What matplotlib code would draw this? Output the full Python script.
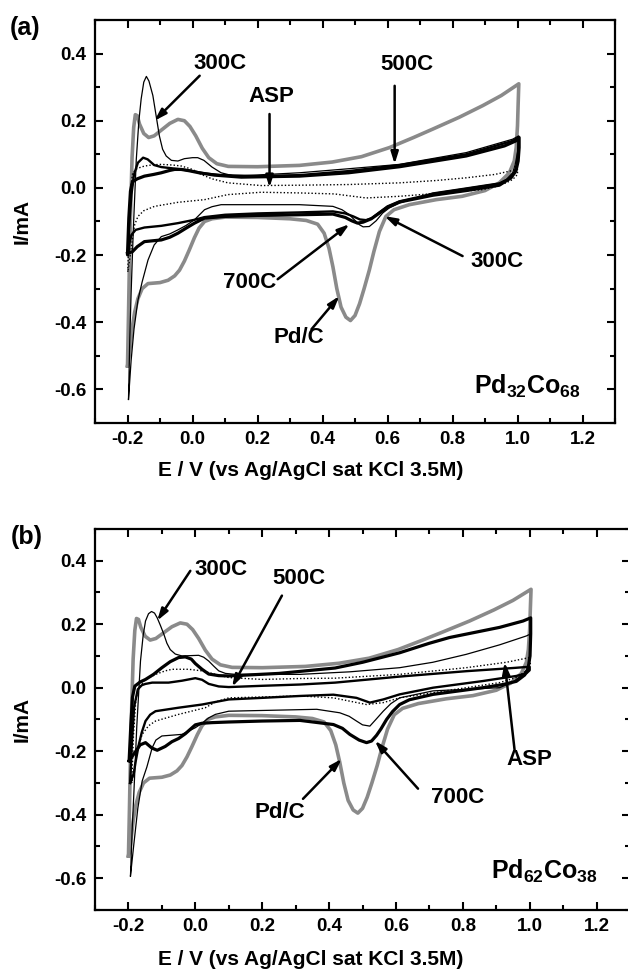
import matplotlib
matplotlib.use("Agg")
import matplotlib.pyplot as plt
from matplotlib.ticker import MultipleLocator, FormatStrFormatter

plt.rcParams.update({
    "font.family": ["Liberation Sans", "DejaVu Sans"],
    "font.weight": "bold",
    "axes.unicode_minus": False,
    "mathtext.fontset": "custom",
    "mathtext.rm": "Liberation Sans:bold",
    "mathtext.bf": "Liberation Sans:bold",
    "mathtext.default": "bf",
})

# ---- Pd/C reference (same curve in both panels) ----
pdc_E = [-0.200, -0.197, -0.194, -0.190, -0.186, -0.181, -0.176, -0.170, -0.163, -0.150,
         -0.135, -0.118, -0.096, -0.070, -0.045, -0.025, -0.008, 0.010, 0.030, 0.050,
         0.075, 0.110, 0.200, 0.329, 0.430, 0.520, 0.606, 0.680, 0.739, 0.820,
         0.893, 0.950, 1.004,
         1.002, 1.000, 0.996, 0.990, 0.975, 0.944, 0.900, 0.830, 0.750, 0.667,
         0.620, 0.595, 0.575, 0.558, 0.544, 0.528, 0.514, 0.500, 0.486, 0.472,
         0.457, 0.444, 0.432, 0.420, 0.405, 0.385, 0.350, 0.300, 0.200, 0.100,
         0.060, 0.037, 0.020, 0.006, -0.010, -0.025, -0.040, -0.055, -0.075, -0.100,
         -0.137, -0.155, -0.168, -0.178, -0.186, -0.194, -0.200]
pdc_I = [-0.530, -0.380, -0.215, -0.050, 0.090, 0.180, 0.218, 0.215, 0.190, 0.162,
         0.150, 0.155, 0.172, 0.192, 0.204, 0.200, 0.183, 0.155, 0.118, 0.090,
         0.072, 0.064, 0.063, 0.067, 0.077, 0.093, 0.120, 0.150, 0.175, 0.210,
         0.245, 0.275, 0.310,
         0.250, 0.185, 0.120, 0.080, 0.045, 0.015, -0.008, -0.025, -0.035, -0.050,
         -0.065, -0.085, -0.130, -0.190, -0.245, -0.300, -0.345, -0.380, -0.395, -0.385,
         -0.355, -0.300, -0.235, -0.180, -0.135, -0.108, -0.097, -0.092, -0.088, -0.087,
         -0.092, -0.100, -0.120, -0.148, -0.185, -0.218, -0.245, -0.262, -0.275, -0.282,
         -0.285, -0.300, -0.330, -0.370, -0.420, -0.495, -0.530]

# ---- panel (a): Pd32Co68 ----
a_asp_E = [-0.199, -0.195, -0.189, -0.184, -0.170, -0.148, -0.120, -0.096, -0.060, -0.034,
           0.000, 0.027, 0.060, 0.109, 0.211, 0.329, 0.480, 0.637, 0.750, 0.842, 0.930, 1.000,
           1.000, 0.985, 0.965, 0.930, 0.893, 0.770, 0.637, 0.534, 0.437, 0.329, 0.211,
           0.109, 0.037, -0.045, -0.117, -0.150, -0.168, -0.178, -0.184, -0.190, -0.199]
a_asp_I = [-0.250, -0.100, 0.010, 0.045, 0.058, 0.065, 0.069, 0.070, 0.068, 0.065,
           0.055, 0.040, 0.027, 0.015, 0.007, 0.008, 0.010, 0.015, 0.022, 0.030, 0.040, 0.055,
           0.040, 0.025, 0.015, 0.003, -0.005, -0.015, -0.025, -0.030, -0.018, -0.015, -0.013,
           -0.020, -0.035, -0.043, -0.055, -0.068, -0.085, -0.110, -0.145, -0.190, -0.250]

a_300_E = [-0.197, -0.193, -0.189, -0.182, -0.173, -0.165, -0.158, -0.150, -0.142, -0.134,
           -0.122, -0.112, -0.102, -0.092, -0.081, -0.065, -0.045, -0.025, 0.000, 0.016,
           0.035, 0.060, 0.088, 0.129, 0.329, 0.480, 0.637, 0.842, 0.985, 1.004,
           1.003, 1.000, 0.993, 0.985, 0.965, 0.944, 0.842, 0.739, 0.637, 0.605,
           0.585, 0.565, 0.544, 0.525, 0.514, 0.495, 0.483, 0.460, 0.432, 0.329,
           0.200, 0.088, 0.060, 0.037, 0.006, -0.020, -0.045, -0.070, -0.096, -0.118,
           -0.137, -0.155, -0.168, -0.180, -0.189, -0.197]
a_300_I = [-0.630, -0.450, -0.315, -0.120, 0.085, 0.200, 0.265, 0.315, 0.332, 0.318,
           0.275, 0.215, 0.155, 0.115, 0.095, 0.082, 0.080, 0.087, 0.090, 0.090,
           0.082, 0.062, 0.045, 0.035, 0.045, 0.057, 0.070, 0.105, 0.145, 0.155,
           0.125, 0.105, 0.070, 0.045, 0.025, 0.015, 0.000, -0.015, -0.045, -0.060,
           -0.075, -0.098, -0.115, -0.116, -0.110, -0.092, -0.080, -0.065, -0.055, -0.050,
           -0.050, -0.050, -0.056, -0.065, -0.095, -0.112, -0.125, -0.137, -0.145, -0.170,
           -0.215, -0.280, -0.335, -0.420, -0.515, -0.630]

a_500_E = [-0.199, -0.194, -0.188, -0.180, -0.168, -0.152, -0.138, -0.118, -0.096, -0.060,
           -0.034, 0.000, 0.037, 0.088, 0.200, 0.329, 0.480, 0.637, 0.842, 0.985, 1.003,
           1.002, 0.998, 0.990, 0.970, 0.944, 0.842, 0.739, 0.637, 0.600, 0.575,
           0.552, 0.534, 0.515, 0.495, 0.470, 0.432, 0.329, 0.200, 0.100, 0.037,
           0.006, -0.045, -0.096, -0.148, -0.175, -0.188, -0.194, -0.199]
a_500_I = [-0.200, -0.100, -0.020, 0.040, 0.075, 0.090, 0.085, 0.068, 0.062, 0.058,
           0.055, 0.050, 0.043, 0.038, 0.035, 0.038, 0.050, 0.068, 0.100, 0.140, 0.150,
           0.110, 0.070, 0.045, 0.025, 0.012, -0.003, -0.018, -0.040, -0.055, -0.073,
           -0.090, -0.096, -0.094, -0.085, -0.076, -0.070, -0.073, -0.076, -0.080, -0.087,
           -0.095, -0.105, -0.113, -0.118, -0.125, -0.140, -0.165, -0.200]

a_700_E = [-0.200, -0.196, -0.191, -0.185, -0.170, -0.148, -0.120, -0.096, -0.070, -0.055,
           -0.035, -0.010, 0.020, 0.068, 0.150, 0.329, 0.480, 0.637, 0.842, 0.960, 0.995, 1.005,
           1.005, 1.002, 0.995, 0.980, 0.944, 0.842, 0.739, 0.637, 0.600, 0.575,
           0.550, 0.525, 0.508, 0.490, 0.470, 0.432, 0.329, 0.200, 0.100, 0.037,
           0.006, -0.020, -0.045, -0.070, -0.096, -0.148, -0.170, -0.185, -0.200]
a_700_I = [-0.195, -0.090, -0.010, 0.018, 0.027, 0.035, 0.040, 0.045, 0.052, 0.055,
           0.055, 0.051, 0.045, 0.038, 0.032, 0.035, 0.045, 0.063, 0.095, 0.125, 0.140, 0.150,
           0.120, 0.080, 0.050, 0.030, 0.008, -0.008, -0.022, -0.042, -0.058, -0.075,
           -0.092, -0.102, -0.105, -0.098, -0.088, -0.078, -0.080, -0.082, -0.085, -0.090,
           -0.105, -0.120, -0.135, -0.147, -0.155, -0.160, -0.175, -0.190, -0.195]

# ---- panel (b): Pd62Co38 ----
b_asp_E = [-0.190, -0.185, -0.178, -0.169, -0.150, -0.119, -0.090, -0.070, -0.020, 0.020,
           0.060, 0.100, 0.200, 0.313, 0.418, 0.611, 0.810, 0.930, 1.000,
           1.002, 0.990, 0.960, 0.910, 0.810, 0.711, 0.611, 0.562, 0.512, 0.460,
           0.413, 0.313, 0.100, 0.060, 0.030, -0.050, -0.119, -0.140, -0.159, -0.172,
           -0.179, -0.190]
b_asp_I = [-0.300, -0.150, -0.040, 0.000, 0.025, 0.042, 0.053, 0.058, 0.058, 0.053,
           0.042, 0.032, 0.026, 0.029, 0.030, 0.042, 0.063, 0.080, 0.095,
           0.075, 0.053, 0.032, 0.016, 0.000, -0.016, -0.032, -0.047, -0.053, -0.042,
           -0.032, -0.026, -0.032, -0.045, -0.063, -0.084, -0.105, -0.120, -0.147, -0.190,
           -0.231, -0.300]

b_300_E = [-0.194, -0.189, -0.184, -0.175, -0.164, -0.156, -0.149, -0.140, -0.131, -0.122,
           -0.114, -0.104, -0.094, -0.085, -0.075, -0.060, -0.040, -0.015, 0.010, 0.025,
           0.040, 0.055, 0.070, 0.090, 0.120, 0.313, 0.462, 0.611, 0.710, 0.810,
           0.910, 0.990, 1.000,
           1.000, 1.000, 0.990, 0.980, 0.950, 0.910, 0.810, 0.711, 0.611, 0.585,
           0.562, 0.540, 0.522, 0.500, 0.482, 0.460, 0.432, 0.363, 0.100, 0.060,
           0.040, 0.020, 0.000, -0.040, -0.100, -0.118, -0.129, -0.145, -0.159, -0.172,
           -0.184, -0.194]
b_300_I = [-0.593, -0.450, -0.336, -0.120, 0.084, 0.165, 0.210, 0.233, 0.240, 0.235,
           0.220, 0.195, 0.168, 0.140, 0.120, 0.106, 0.100, 0.101, 0.102, 0.096,
           0.084, 0.068, 0.053, 0.045, 0.042, 0.042, 0.050, 0.063, 0.080, 0.105,
           0.135, 0.163, 0.168,
           0.130, 0.084, 0.055, 0.042, 0.018, 0.000, -0.005, -0.010, -0.032, -0.050,
           -0.074, -0.100, -0.121, -0.117, -0.105, -0.090, -0.079, -0.068, -0.074, -0.084,
           -0.095, -0.112, -0.126, -0.147, -0.152, -0.165, -0.189, -0.250, -0.294, -0.380,
           -0.494, -0.593]

b_500_E = [-0.195, -0.190, -0.183, -0.172, -0.160, -0.149, -0.129, -0.080, -0.040, -0.020,
           0.000, 0.020, 0.040, 0.070, 0.100, 0.200, 0.313, 0.418, 0.611, 0.810, 0.950, 1.000,
           1.000, 0.990, 0.960, 0.860, 0.711, 0.611, 0.562, 0.522, 0.482, 0.413,
           0.313, 0.200, 0.100, 0.020, -0.050, -0.119, -0.135, -0.149, -0.160, -0.169,
           -0.178, -0.184, -0.195]
b_500_I = [-0.300, -0.180, -0.060, -0.005, 0.008, 0.012, 0.016, 0.016, 0.022, 0.026,
           0.030, 0.025, 0.012, 0.004, 0.002, 0.006, 0.010, 0.016, 0.035, 0.052, 0.062, 0.066,
           0.055, 0.045, 0.037, 0.021, 0.000, -0.021, -0.037, -0.047, -0.032, -0.022,
           -0.026, -0.032, -0.037, -0.053, -0.063, -0.074, -0.085, -0.105, -0.140, -0.179,
           -0.230, -0.270, -0.300]

b_700_E = [-0.198, -0.193, -0.188, -0.181, -0.165, -0.149, -0.125, -0.100, -0.075, -0.050,
           -0.030, -0.012, 0.000, 0.020, 0.040, 0.070, 0.100, 0.250, 0.418, 0.500,
           0.611, 0.700, 0.760, 0.910, 0.980, 1.003,
           1.003, 1.001, 0.995, 0.985, 0.960, 0.920, 0.860, 0.711, 0.640, 0.611,
           0.590, 0.572, 0.555, 0.542, 0.527, 0.512, 0.490, 0.462, 0.440, 0.413,
           0.313, 0.200, 0.100, 0.050, 0.020, 0.000, -0.030, -0.050, -0.070, -0.090,
           -0.114, -0.130, -0.149, -0.165, -0.178, -0.188, -0.198]
b_700_I = [-0.230, -0.120, -0.030, 0.005, 0.018, 0.026, 0.042, 0.063, 0.082, 0.095,
           0.097, 0.090, 0.076, 0.058, 0.043, 0.038, 0.037, 0.045, 0.062, 0.080,
           0.110, 0.140, 0.158, 0.190, 0.210, 0.220,
           0.170, 0.100, 0.060, 0.040, 0.020, 0.010, 0.000, -0.021, -0.038, -0.053,
           -0.075, -0.100, -0.130, -0.150, -0.168, -0.173, -0.165, -0.147, -0.128, -0.116,
           -0.103, -0.105, -0.108, -0.110, -0.112, -0.117, -0.145, -0.160, -0.170, -0.185,
           -0.197, -0.190, -0.173, -0.180, -0.200, -0.215, -0.230]

GRAY = "#8a8a8a"
FS = 15      # axis labels
FS_ANN = 16  # curve labels

fig = plt.figure(figsize=(6.28, 9.75), dpi=100)
ax_a = fig.add_axes([0.1513, 0.5662, 0.828, 0.4133])
ax_b = fig.add_axes([0.1513, 0.0667, 0.8519, 0.3908])


def draw_curves(ax, asp, c300, c500, c700):
    ax.plot(pdc_E, pdc_I, color=GRAY, lw=2.6, zorder=2)
    ax.plot(asp[0], asp[1], color="black", lw=1.0, ls=(0, (1, 1.5)), zorder=3)
    ax.plot(c300[0], c300[1], color="black", lw=0.9, zorder=3)
    ax.plot(c500[0], c500[1], color="black", lw=1.7, zorder=3)
    ax.plot(c700[0], c700[1], color="black", lw=2.3, zorder=3)


def style_axes(ax):
    ax.set_xlim(-0.3, 1.3)
    ax.set_ylim(-0.7, 0.5)
    ax.xaxis.set_major_locator(MultipleLocator(0.2))
    ax.xaxis.set_minor_locator(MultipleLocator(0.1))
    ax.yaxis.set_major_locator(MultipleLocator(0.2))
    ax.yaxis.set_minor_locator(MultipleLocator(0.1))
    ax.xaxis.set_major_formatter(FormatStrFormatter("%.1f"))
    ax.yaxis.set_major_formatter(FormatStrFormatter("%.1f"))
    ax.tick_params(which="both", direction="in", top=True, right=True, width=1.5)
    ax.tick_params(which="major", length=6, labelsize=13.5)
    ax.tick_params(which="minor", length=3.5)
    ax.tick_params(axis="x", pad=6)
    ax.tick_params(axis="y", pad=6)
    for s in ax.spines.values():
        s.set_linewidth(1.6)
    ax.set_xlabel("E / V (vs Ag/AgCl sat KCl 3.5M)", fontsize=FS, fontweight="bold")
    ax.set_ylabel("I/mA", fontsize=FS, fontweight="bold")


def label_arrow(ax, txt, txt_xy, tail, tip):
    ax.text(txt_xy[0], txt_xy[1], txt, fontsize=FS_ANN, fontweight="bold",
            ha="center", va="center", zorder=5)
    ax.annotate("", xy=tip, xytext=tail,
                arrowprops=dict(arrowstyle="-|>,head_length=0.7,head_width=0.22",
                                color="black", lw=1.8, shrinkA=0, shrinkB=0),
                zorder=5)


# panel (a)
draw_curves(ax_a, (a_asp_E, a_asp_I), (a_300_E, a_300_I),
            (a_500_E, a_500_I), (a_700_E, a_700_I))
style_axes(ax_a)
label_arrow(ax_a, "300C", (0.086, 0.370), (0.022, 0.334), (-0.117, 0.200))
label_arrow(ax_a, "ASP", (0.243, 0.272), (0.237, 0.220), (0.237, 0.001))
label_arrow(ax_a, "500C", (0.660, 0.366), (0.622, 0.304), (0.622, 0.071))
label_arrow(ax_a, "700C", (0.175, -0.281), (0.262, -0.272), (0.483, -0.108))
label_arrow(ax_a, "300C", (0.937, -0.218), (0.831, -0.203), (0.591, -0.084))
label_arrow(ax_a, "Pd/C", (0.326, -0.445), (0.366, -0.421), (0.452, -0.322))
ax_a.text(1.03, -0.612, r"Pd$_{32}$Co$_{68}$", fontsize=18, fontweight="bold",
          ha="center", va="baseline")
ax_a.xaxis.set_label_coords(0.415, -0.094)
ax_a.yaxis.set_label_coords(-0.121, 0.5)
fig.text(25 / 628, 1 - 28 / 975, "(a)", fontsize=18, fontweight="bold",
         ha="center", va="center")

# panel (b)
draw_curves(ax_b, (b_asp_E, b_asp_I), (b_300_E, b_300_I),
            (b_500_E, b_500_I), (b_700_E, b_700_I))
style_axes(ax_b)
label_arrow(ax_b, "300C", (0.078, 0.373), (-0.015, 0.368), (-0.114, 0.211))
label_arrow(ax_b, "500C", (0.309, 0.343), (0.259, 0.290), (0.110, 0.003))
label_arrow(ax_b, "Pd/C", (0.254, -0.392), (0.322, -0.350), (0.438, -0.224))
label_arrow(ax_b, "700C", (0.784, -0.345), (0.666, -0.318), (0.537, -0.167))
label_arrow(ax_b, "ASP", (0.998, -0.227), (0.955, -0.198), (0.925, 0.080))
ax_b.text(1.045, -0.602, r"Pd$_{62}$Co$_{38}$", fontsize=18, fontweight="bold",
          ha="center", va="baseline")
ax_b.xaxis.set_label_coords(0.404, -0.105)
ax_b.yaxis.set_label_coords(-0.118, 0.5)
fig.text(27 / 628, 1 - 537 / 975, "(b)", fontsize=18, fontweight="bold",
         ha="center", va="center")

fig.savefig("out.png", dpi=100)
